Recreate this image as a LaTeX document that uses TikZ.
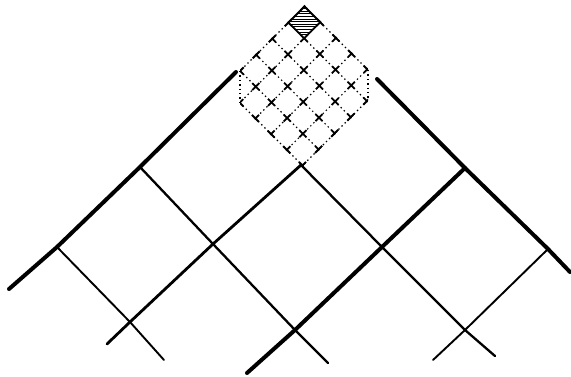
\documentclass[tikz,border=0pt]{standalone}
\begin{document}
\begin{tikzpicture}[x=1pt,y=-1pt,
  thickline/.style={line width=4pt,line cap=round},
  midline/.style={line width=2.8pt,line cap=round},
  medline/.style={line width=2.3pt,line cap=round},
  thinline/.style={line width=1.9pt,line cap=round},
  fine/.style={line width=1.2pt,dash pattern=on 1.4pt off 3pt},
  tickmark/.style={line width=1.8pt},
  hatchline/.style={line width=0.9pt}]
\useasboundingbox (0,0) rectangle (571,376);
% coarse lattice points
\coordinate (P20) at (140,167);
\coordinate (P30) at (57,247);
\coordinate (P11) at (301,165);
\coordinate (P21) at (213,244);
\coordinate (P31) at (130,322);
\coordinate (P22) at (295,330);
\coordinate (P12) at (382,247);
\coordinate (P02) at (465,168);
\coordinate (P13) at (465,330);
\coordinate (P03) at (548,249);
% free ends
\coordinate (E0a) at (9,289);
\coordinate (E0b) at (236,72);
\coordinate (E1a) at (107,344);
\coordinate (E2a) at (247,373);
\coordinate (E3a) at (433,360);
\coordinate (F0a) at (377,79);
\coordinate (F0b) at (570,272);
\coordinate (F1b) at (495,356);
\coordinate (F2b) at (328,363);
\coordinate (F3b) at (164,360);
% "/" lines
\draw[thickline] (E0a) -- (P30) -- (P20) -- (E0b);
\draw[midline] (E1a) -- (P31) -- (P21) -- (P11);
\draw[thickline] (E2a) -- (P22) -- (P12) -- (P02);
\draw[thinline] (E3a) -- (P13) -- (P03);
% "\" lines
\draw[thickline] (F0a) -- (P02) -- (P03) -- (F0b);
\draw[medline] (P11) -- (P12) -- (P13) -- (F1b);
\draw[medline] (P20) -- (P21) -- (P22) -- (F2b);
\draw[thinline] (P30) -- (P31) -- (F3b);
% fine dashed grid in the top cell
\begin{scope}
\clip (240,0) rectangle (368,172);
\begin{scope}[shift={(304.5,6.5)}, x={(-16.1pt,-16.1pt)}, y={(15.7pt,-15.7pt)}]
\coordinate (H0) at (0,0);
\coordinate (H1) at (1,0);
\coordinate (H2) at (1,1);
\coordinate (H3) at (0,1);
\clip (-0.05,-0.05) -- (5.05,-0.05) -- (5.05,5.05) -- (-0.05,5.05) -- cycle;
\foreach \k in {0,...,5} {
  \draw[fine] (\k,0) -- (\k,5);
  \draw[fine] (0,\k) -- (5,\k);
}
\foreach \p in {0,...,5} {
  \foreach \q in {0,...,5} {
    \draw[tickmark] (\p-0.22,\q) -- (\p+0.22,\q) (\p,\q-0.22) -- (\p,\q+0.22);
  }
}
\end{scope}
\end{scope}
\coordinate (VL1) at (240,71);
\coordinate (VL2) at (240,103);
\coordinate (VR1) at (368,70);
\coordinate (VR2) at (368,100);
\draw[fine] (VL1) -- (VL2);
\draw[fine] (VR1) -- (VR2);
% hatched cell
\fill[white] (H0) -- (H1) -- (H2) -- (H3) -- cycle;
\begin{scope}
\clip (H0) -- (H1) -- (H2) -- (H3) -- cycle;
\foreach \yy in {6,8.6,...,40} {
  \draw[hatchline] (280,\yy) -- (330,\yy);
}
\end{scope}
\draw[line width=1.8pt,line join=round] (H0) -- (H1) -- (H2) -- (H3) -- cycle;
\end{tikzpicture}
\end{document}
